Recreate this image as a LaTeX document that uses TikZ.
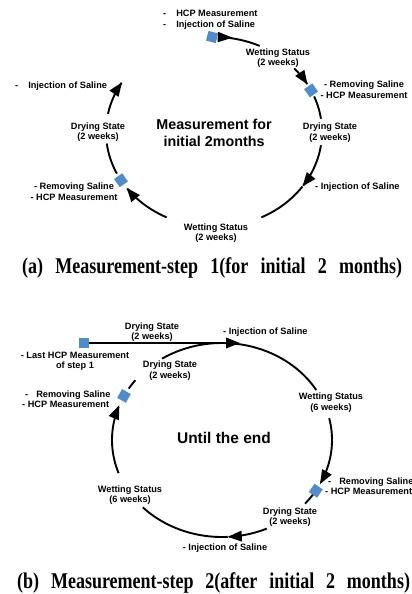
\documentclass[tikz,border=0pt]{standalone}
\usepackage{fontspec}
\setmainfont{Liberation Serif}
\newfontfamily\lblfont{Liberation Sans}
\usetikzlibrary{arrows.meta}
\definecolor{sqblue}{RGB}{79,140,201}
\newcommand\arcA[3][]{\draw[cyc,#1] plot[domain=#2:#3,samples=40,smooth,variable=\t] ({214+108*cos(\t)},{132+95*sin(\t)});}
\newcommand\arcB[3][]{\draw[cyc,#1] plot[domain=#2:#3,samples=40,smooth,variable=\t] ({222+110*cos(\t)},{440+97*sin(\t)});}
\begin{document}
\begin{tikzpicture}[x=1pt,y=-1pt,
  lab/.style={font=\lblfont\bfseries\fontsize{9.2}{10.5}\selectfont, align=center, inner sep=0pt},
  ttl/.style={font=\lblfont\bfseries\fontsize{14.3}{16.5}\selectfont, align=center, inner sep=0pt},
  sq/.style={fill=sqblue, minimum size=10pt, inner sep=0pt, draw=none},
  cyc/.style={line width=1.9pt},
  tip/.style={-{Triangle[length=14pt,width=10.5pt]}},
  tail/.style={{Triangle[reversed,length=15pt,width=10pt]}-},
  capt/.style={font=\bfseries\fontsize{22.5}{24}\selectfont, inner sep=0pt, anchor=base west}
]
\useasboundingbox (0,0) rectangle (412,594);
\fill[white] (0,0) rectangle (412,594);

% ---------------- Panel (a) ----------------
\arcA[tail]{-88}{-65}
\arcA[tip]{-42}{-30}
\arcA{-22}{-8}
\arcA[tip]{8}{35}
\arcA{35}{64}
\arcA[tip]{116}{144}
\arcA{154}{173}
\arcA[tip]{191}{211.6}

\node[sq, rotate=-15] (sqA1) at ({214+108*cos(-91)},{132+95*sin(-91)}) {};
\node[sq, rotate=35] (sqA2) at ({214+108*cos(-26)},{132+95*sin(-26)}) {};
\node[sq, rotate=35] (sqA3) at ({214+108*cos(149.5)},{132+95*sin(149.5)}) {};

\node[lab, align=left, anchor=west] (a0) at (163,19.5) {-\hspace{10pt}HCP Measurement\\-\hspace{10pt}Injection of Saline};
\node[lab] (aW1) at (278,58) {Wetting Status\\(2 weeks)};
\node[lab] (aR1) at (364,89.5) {- Removing Saline\\- HCP Measurement};
\node[lab] (aD1) at (330,132.5) {Drying State\\(2 weeks)};
\node[lab, anchor=west] (aI1) at (315,187) {- Injection of Saline};
\node[lab] (aW2) at (216,233) {Wetting Status\\(2 weeks)};
\node[lab] (aR2) at (74,191.5) {- Removing Saline\\- HCP Measurement};
\node[lab] (aD2) at (98,132) {Drying State\\(2 weeks)};
\node[lab, anchor=west] (aI2) at (15,86) {-\hspace{10pt}Injection of Saline};
\node[ttl] (aT) at (214,133) {Measurement for\\initial 2months};
\node[capt] (capA) at (22,273) {\scalebox{0.8}[1]{\makebox[475pt][s]{(a) Measurement-step 1(for initial 2 months)}}};

% ---------------- Panel (b) ----------------
\node[sq] (sqB0) at (84,343) {};
\coordinate (tipB) at (240,343);
\draw[cyc, tip] (sqB0.east) -- (tipB);
\arcB{-123}{-31}
\arcB[tip]{-13}{27}
\arcB{34}{41}
\arcB[tip]{66}{87}
\arcB{87}{136}
\arcB[tip]{160}{201}
\arcB{212}{218}

\node[sq, rotate=-35] (sqB1) at ({222+110*cos(31.5)},{440+97*sin(31.5)}) {};
\node[sq, rotate=60] (sqB2) at ({222+110*cos(207)},{440+97*sin(207)}) {};

\node[lab] (bL) at (75,361) {- Last HCP Measurement\\of step 1};
\node[lab] (bD1) at (152,332) {Drying State\\(2 weeks)};
\node[lab, anchor=west] (bI1) at (223,332) {- Injection of Saline};
\node[lab] (bD2) at (170,370.5) {Drying State\\(2 weeks)};
\node[lab, align=left, anchor=west] (bR1) at (22,399) {\hspace{3pt}-\hspace{8pt}Removing Saline\\- HCP Measurement};
\node[lab] (bW1) at (331,402.5) {Wetting Status\\(6 weeks)};
\node[ttl, font=\lblfont\bfseries\fontsize{15.5}{18}\selectfont] (bT) at (224,438) {Until the end};
\node[lab, align=left, anchor=west] (bR2) at (325,486) {\hspace{3pt}-\hspace{8pt}Removing Saline\\- HCP Measurement};
\node[lab] (bD3) at (290,517) {Drying State\\(2 weeks)};
\node[lab] (bW2) at (130,495) {Wetting Status\\(6 weeks)};
\node[lab] (bI2) at (225,548) {- Injection of Saline};
\node[capt] (capB) at (17,588) {\scalebox{0.8}[1]{\makebox[491pt][s]{(b) Measurement-step 2(after initial 2 months)}}};
\end{tikzpicture}
\end{document}
